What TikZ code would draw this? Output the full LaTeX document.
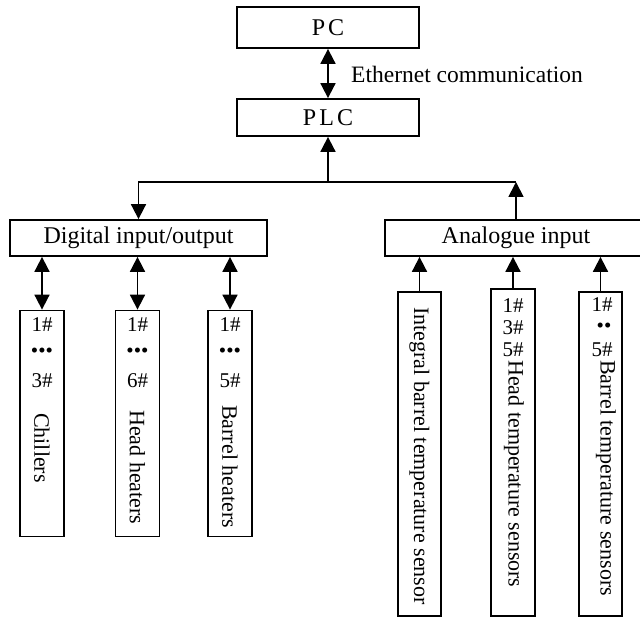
\documentclass[tikz,border=0pt]{standalone}
\usepackage{fontspec}
\setmainfont{Liberation Serif}
\usetikzlibrary{arrows.meta}

\begin{document}
\begin{tikzpicture}[x=1pt,y=-1pt,>={Triangle[length=15pt,width=15pt]},
  blk/.style={draw,line width=1.8pt,inner sep=0pt,font=\fontsize{24}{28}\selectfont},
  num/.style={inner sep=0pt,font=\fontsize{21}{25}\selectfont},
  vtxt/.style={rotate=-90,anchor=west,inner sep=0pt,font=\fontsize{22}{26}\selectfont},
  conn/.style={line width=1.8pt}]
  \useasboundingbox (0,0) rectangle (640,620);
  \def\outbox#1#2#3#4#5{% name, x, last number, text start, label
    \node[blk,minimum width=44,minimum height=226] (#1) at (#2,423.5) {};
    \node[num] (#1a) at (#2,325) {1\#};
    \node[num] (#1b) at (#2,353) {\textbullet\textbullet\textbullet};
    \node[num] (#1c) at (#2,381) {#3\#};
    \node[vtxt] (#1t) at (#2,#4) {#5};
    \draw[conn,<->] (#1.north |- dio.south) -- (#1.north);}
  % PC and PLC
  \node[blk,minimum width=182,minimum height=41] (pc) at (328,27.5) {P\kern3pt C};
  \node[blk,minimum width=182,minimum height=37] (plc) at (328,117.5) {P\kern3pt L\kern3pt C};
  \draw[conn,<->] (pc) -- (plc);
  \node[anchor=west,inner sep=0pt,font=\fontsize{23.5}{28}\selectfont] (eth) at (351,74) {Ethernet communication};
  % input/output modules
  \node[blk,minimum width=257,minimum height=36] (dio) at (138.5,238) {Digital input/output};
  \node[blk,minimum width=262,minimum height=36] (ai) at (516,238) {Analogue input};
  \coordinate (bus) at (328,182);
  \draw[conn,->] (bus) -- (plc.south);
  \draw[conn,->] (bus) -| (dio.north);
  \draw[conn] (bus) -- (ai.north |- bus);
  \draw[conn,->] (ai.north) -- (ai.north |- bus);
  % digital outputs
  \outbox{chil}{42}{3}{413}{Chillers}
  \outbox{hhtr}{137.5}{6}{410}{Head heaters}
  \outbox{bhtr}{230}{5}{405}{Barrel heaters}
  % analogue inputs
  \node[blk,minimum width=43,minimum height=324] (ibs) at (419.5,454) {};
  \node[vtxt] (ibst) at (419.5,307) {Integral barrel temperature sensor};
  \draw[conn,->] (ibs.north) -- (ibs.north |- ai.south);
  \node[blk,minimum width=44,minimum height=327] (hts) at (513,452.5) {};
  \node[num] (htsa) at (513,306) {1\#};
  \node[num] (htsb) at (513,328) {3\#};
  \node[num] (htsc) at (513,350) {5\#};
  \node[vtxt] (htst) at (514,360) {Head temperature sensors};
  \draw[conn,->] (hts.north) -- (hts.north |- ai.south);
  \node[blk,minimum width=43,minimum height=324] (bts) at (600.5,454) {};
  \node[num] (btsa) at (602,305) {1\#};
  \node[num] (btsb) at (604,328) {\textbullet\textbullet};
  \node[num] (btsc) at (602,350) {5\#};
  \node[vtxt] (btst) at (606,360) {Barrel temperature sensors};
  \draw[conn,->] (bts.north) -- (bts.north |- ai.south);
\end{tikzpicture}
\end{document}
